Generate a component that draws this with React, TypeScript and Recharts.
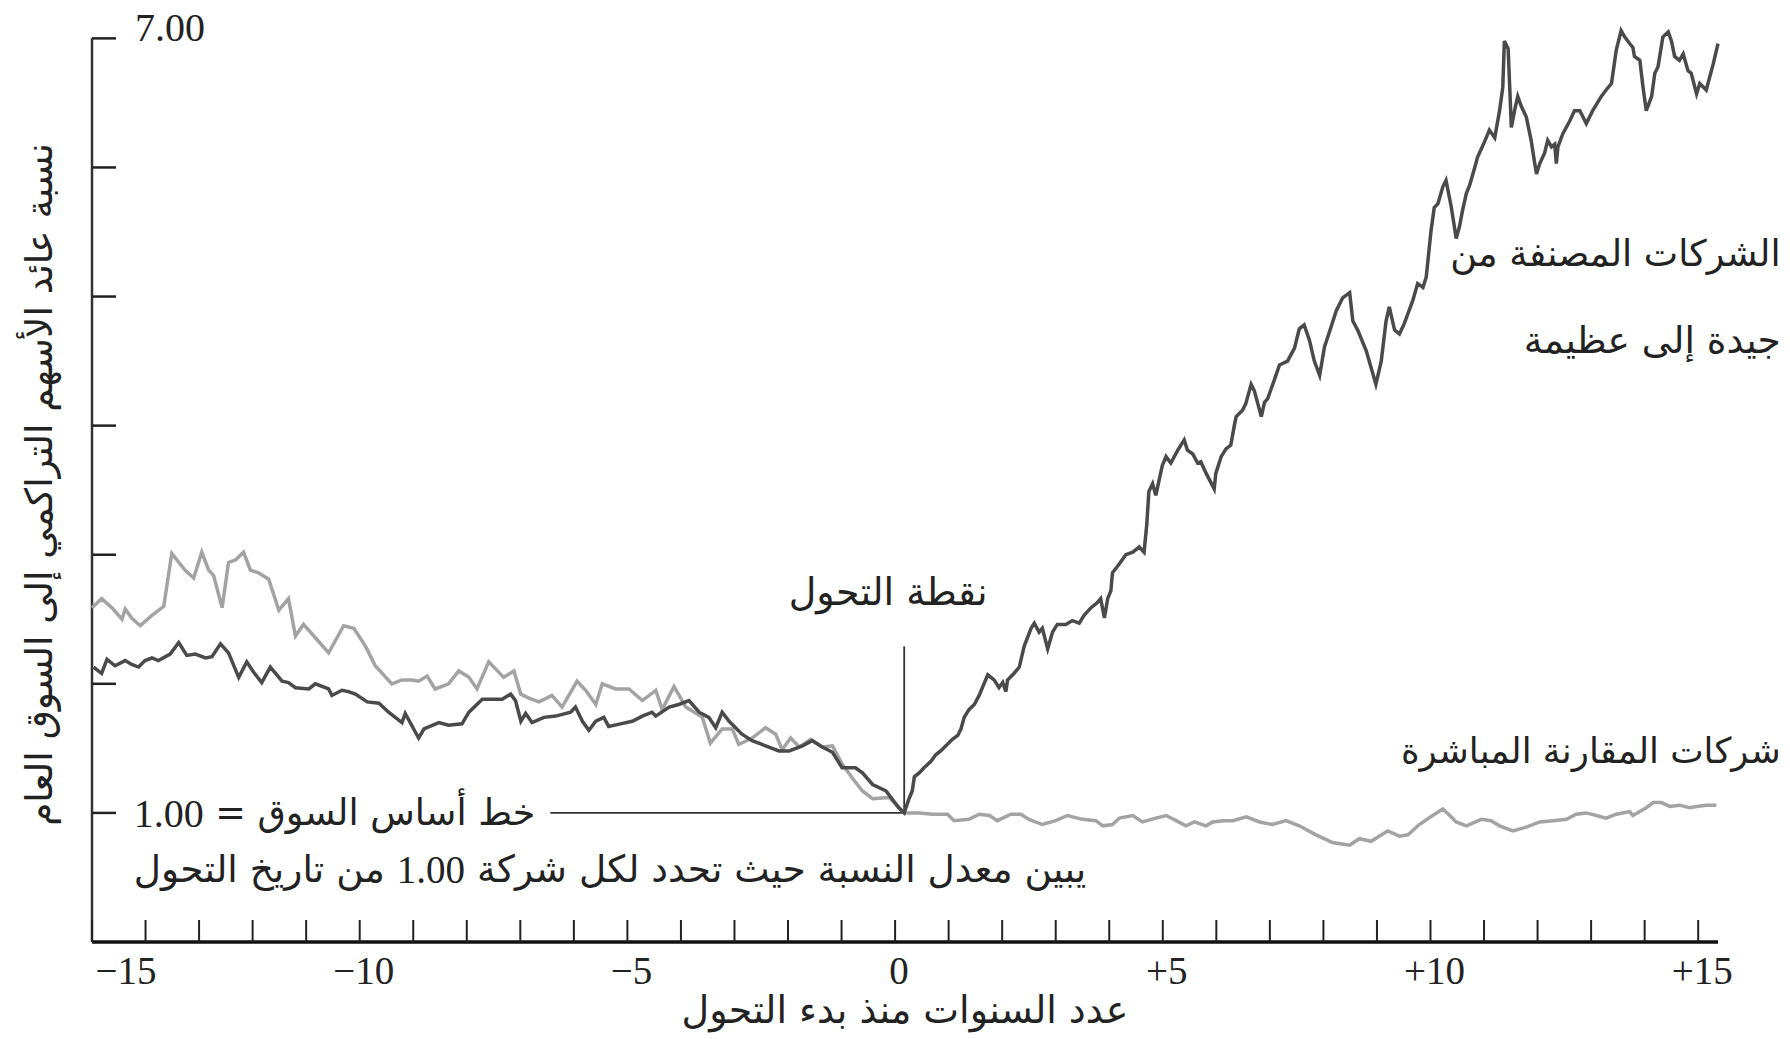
import React from 'react';
import { LineChart, Line, XAxis, YAxis, ReferenceLine, ReferenceDot, Label } from 'recharts';

// years relative to the transition point (0)
const greatYears = [
  -14.97, -14.82, -14.72, -14.57, -14.38, -14.26, -14.13, -14.01, -13.88, -13.76, -13.54, -13.38, -13.23, -13.07,
  -12.88, -12.76, -12.6, -12.45, -12.26, -12.11, -11.98, -11.83, -11.67, -11.45, -11.33, -11.2, -10.95, -10.83,
  -10.58, -10.52, -10.33, -10.21, -10.08, -9.86, -9.64, -9.46, -9.21, -9.15, -8.9, -8.8, -8.52, -8.34, -8.09,
  -7.96, -7.71, -7.59, -7.34, -7.18, -7.09, -6.99, -6.9, -6.78, -6.56, -6.34, -6.06, -5.97, -5.84, -5.72, -5.59,
  -5.44, -5.35, -5.13, -4.91, -4.72, -4.54, -4.47, -4.22, -4.04, -3.85, -3.66, -3.48, -3.35, -3.23, -3.1, -2.98,
  -2.86, -2.67, -2.42, -2.17, -1.98, -1.73, -1.55, -1.36, -1.17, -0.99, -0.74, -0.61, -0.42, -0.17, 0.07, 0.17,
  0.26, 0.32, 0.36, 0.45, 0.54, 0.67, 0.76, 0.85, 0.95, 1.07, 1.17, 1.23, 1.29, 1.38, 1.48, 1.57, 1.66, 1.73,
  1.85, 1.94, 2.01, 2.07, 2.1, 2.22, 2.32, 2.41, 2.54, 2.6, 2.69, 2.75, 2.85, 2.94, 3.03, 3.19, 3.31, 3.44,
  3.53, 3.66, 3.78, 3.84, 3.91, 3.97, 4.03, 4.06, 4.19, 4.31, 4.44, 4.56, 4.65, 4.7, 4.74, 4.81, 4.87, 4.99,
  5.06, 5.15, 5.28, 5.4, 5.46, 5.56, 5.65, 5.71, 5.81, 5.96, 5.99, 6.09, 6.18, 6.27, 6.34, 6.37, 6.49, 6.55,
  6.65, 6.71, 6.84, 6.9, 6.96, 7.08, 7.18, 7.33, 7.46, 7.55, 7.64, 7.74, 7.83, 7.93, 8.02, 8.14, 8.24, 8.36,
  8.49, 8.55, 8.64, 8.8, 8.98, 9.08, 9.17, 9.23, 9.33, 9.42, 9.51, 9.67, 9.76, 9.86, 9.92, 10.01, 10.07, 10.14,
  10.23, 10.29, 10.39, 10.48, 10.54, 10.6, 10.67, 10.73, 10.82, 10.88, 11.01, 11.1, 11.2, 11.29, 11.35, 11.38,
  11.45, 11.48, 11.51, 11.57, 11.63, 11.7, 11.79, 11.88, 11.94, 11.98, 12.04, 12.13, 12.19, 12.26, 12.32, 12.35,
  12.38, 12.47, 12.6, 12.69, 12.79, 12.91, 13.03, 13.19, 13.28, 13.38, 13.47, 13.56, 13.63, 13.72, 13.78, 13.81,
  13.91, 13.97, 14.03, 14.13, 14.19, 14.25, 14.34, 14.44, 14.5, 14.56, 14.65, 14.72, 14.81, 14.87, 14.97, 15.03,
  15.15, 15.28, 15.37,
];

const greatRatio = [
  2.13, 2.08, 2.19, 2.14, 2.18, 2.15, 2.13, 2.18, 2.2, 2.18, 2.23, 2.32, 2.22, 2.23,
  2.2, 2.21, 2.31, 2.24, 2.05, 2.17, 2.09, 2.01, 2.13, 2.02, 2.01, 1.97, 1.96, 2.0,
  1.96, 1.91, 1.95, 1.94, 1.92, 1.86, 1.85, 1.78, 1.7, 1.77, 1.58, 1.65, 1.7, 1.68, 1.69,
  1.78, 1.88, 1.88, 1.88, 1.92, 1.87, 1.71, 1.77, 1.7, 1.74, 1.75, 1.78, 1.82, 1.71, 1.64, 1.71,
  1.74, 1.67, 1.69, 1.71, 1.75, 1.78, 1.75, 1.82, 1.84, 1.87, 1.78, 1.74, 1.66, 1.78, 1.71, 1.66,
  1.61, 1.56, 1.52, 1.48, 1.48, 1.52, 1.56, 1.51, 1.47, 1.35, 1.35, 1.31, 1.22, 1.17, 1.04, 1.0,
  1.11, 1.17, 1.28, 1.31, 1.35, 1.4, 1.45, 1.48, 1.52, 1.57, 1.6, 1.65, 1.74, 1.8, 1.84, 1.91, 2.0, 2.07,
  2.03, 1.97, 2.01, 1.94, 2.03, 2.08, 2.13, 2.29, 2.43, 2.47, 2.4, 2.43, 2.27, 2.4, 2.46, 2.46, 2.49, 2.47,
  2.53, 2.59, 2.63, 2.66, 2.51, 2.66, 2.72, 2.86, 2.93, 3.0, 3.02, 3.06, 3.02, 3.23, 3.49, 3.55, 3.46, 3.69,
  3.76, 3.71, 3.81, 3.89, 3.81, 3.78, 3.71, 3.72, 3.63, 3.51, 3.63, 3.76, 3.82, 3.85, 4.01, 4.07, 4.12, 4.17,
  4.32, 4.27, 4.07, 4.18, 4.21, 4.35, 4.47, 4.5, 4.6, 4.75, 4.78, 4.66, 4.5, 4.39, 4.61, 4.76, 4.89, 4.99,
  5.03, 4.81, 4.74, 4.58, 4.32, 4.5, 4.81, 4.92, 4.74, 4.71, 4.79, 4.97, 5.1, 5.07, 5.15, 5.51, 5.69, 5.72,
  5.85, 5.9, 5.69, 5.45, 5.54, 5.67, 5.8, 5.86, 5.99, 6.08, 6.2, 6.29, 6.23, 6.44, 6.62, 6.98,
  6.92, 6.62, 6.31, 6.44, 6.55, 6.47, 6.39, 6.21, 6.05, 5.95, 6.03, 6.11, 6.21, 6.16, 6.18, 6.03,
  6.16, 6.26, 6.36, 6.44, 6.44, 6.34, 6.44, 6.55, 6.6, 6.65, 6.91, 7.06, 7.01, 6.96, 6.93, 6.86,
  6.83, 6.62, 6.44, 6.55, 6.73, 6.78, 7.01, 7.05, 6.98, 6.86, 6.83, 6.88, 6.75, 6.73, 6.57, 6.65,
  6.6, 6.8, 6.96,
];

const comparisonYears = [
  -15, -14.82, -14.63, -14.44, -14.38, -14.26, -14.1, -13.88, -13.66, -13.51, -13.26, -13.1, -12.95, -12.82,
  -12.73, -12.57, -12.45, -12.32, -12.17, -12.04, -11.89, -11.7, -11.51, -11.33, -11.2, -11.05, -10.77, -10.58,
  -10.3, -10.11, -9.89, -9.71, -9.4, -9.21, -9.02, -8.9, -8.74, -8.59, -8.34, -8.15, -7.96, -7.81, -7.59, -7.31,
  -7.12, -6.99, -6.84, -6.65, -6.41, -6.22, -5.94, -5.78, -5.59, -5.47, -5.22, -4.97, -4.72, -4.47, -4.35, -4.13,
  -3.91, -3.6, -3.45, -3.23, -3.04, -2.92, -2.67, -2.42, -2.23, -2.11, -1.95, -1.79, -1.58, -1.36, -1.17, -0.99,
  -0.8, -0.61, -0.42, -0.11, 0.17, 0.45, 0.7, 0.98, 1.1, 1.38, 1.57, 1.76, 1.91, 2.16, 2.35, 2.5, 2.75, 3.0,
  3.22, 3.5, 3.75, 3.88, 4.06, 4.19, 4.44, 4.62, 4.87, 5.06, 5.25, 5.43, 5.59, 5.81, 5.93, 6.12, 6.31, 6.56,
  6.81, 7.05, 7.3, 7.55, 7.86, 8.17, 8.49, 8.67, 8.89, 9.2, 9.42, 9.58, 9.79, 10.04, 10.23, 10.36, 10.48, 10.67,
  10.95, 11.13, 11.29, 11.54, 11.79, 12.04, 12.29, 12.54, 12.72, 12.91, 13.1, 13.28, 13.47, 13.72, 13.78, 14.03,
  14.16, 14.31, 14.47, 14.65, 14.84, 14.97, 15.15, 15.34,
];

const comparisonRatio = [
  2.59, 2.66, 2.59, 2.5, 2.58, 2.51, 2.45, 2.53, 2.6, 3.01, 2.88, 2.82, 3.02, 2.88,
  2.84, 2.59, 2.94, 2.96, 3.02, 2.88, 2.86, 2.81, 2.57, 2.66, 2.37, 2.46, 2.33, 2.24,
  2.45, 2.43, 2.29, 2.14, 2.0, 2.03, 2.03, 2.02, 2.06, 1.96, 2.0, 2.1, 2.05, 1.96, 2.17, 2.05,
  2.1, 1.92, 1.89, 1.86, 1.91, 1.82, 2.02, 1.95, 1.84, 2.0, 1.96, 1.96, 1.87, 1.95, 1.8, 1.98,
  1.82, 1.74, 1.54, 1.65, 1.65, 1.53, 1.58, 1.66, 1.61, 1.49, 1.58, 1.51, 1.57, 1.51, 1.52, 1.38,
  1.27, 1.17, 1.11, 1.12, 1.0, 1.0, 0.99, 0.99, 0.94, 0.95, 0.99, 0.98, 0.94, 0.99, 0.99, 0.95, 0.91, 0.94,
  0.98, 0.95, 0.94, 0.9, 0.91, 0.96, 0.98, 0.93, 0.96, 0.98, 0.94, 0.9, 0.93, 0.9, 0.93, 0.94, 0.94, 0.97,
  0.93, 0.91, 0.94, 0.9, 0.83, 0.77, 0.75, 0.8, 0.78, 0.86, 0.82, 0.83, 0.91, 0.98, 1.03, 0.98, 0.93, 0.9,
  0.95, 0.94, 0.9, 0.86, 0.89, 0.93, 0.94, 0.95, 0.99, 1.0, 0.98, 0.96, 0.99, 1.01, 0.98, 1.04,
  1.08, 1.08, 1.05, 1.06, 1.04, 1.05, 1.06, 1.06,
];

const xTicks = [-15, -14, -13, -12, -11, -10, -9, -8, -7, -6, -5, -4, -3, -2, -1, 0, 1, 2, 3, 4, 5, 6, 7, 8, 9, 10, 11, 12, 13, 14, 15];
const labelledYears = [-15, -10, -5, 0, 5, 10, 15];
const xTickLabels = ['−15', '−10', '−5', '0', '+5', '+10', '+15'];
const yTicks = [1, 2, 3, 4, 5, 6, 7];

const TURN_YEAR = 0.17;
const BASELINE = 1;

const greatData = greatYears.map((year, i) => ({ year, ratio: greatRatio[i] }));
const comparisonData = comparisonYears.map((year, i) => ({ year, ratio: comparisonRatio[i] }));

const ARABIC = "'DejaVu Sans', sans-serif";
const SERIF = "'Liberation Serif', 'DejaVu Serif', serif";
const INK = '#222';

const XTick = (props: any) => {
  const { x, y, payload } = props;
  const idx = labelledYears.indexOf(payload.value);
  return (
    <g>
      <line x1={x} x2={x} y1={y} y2={y - 22} stroke={INK} strokeWidth={2} />
      {idx >= 0 && (
        <text
          x={x + (payload.value === -15 ? 34 : 4)}
          y={y + 42}
          textAnchor="middle"
          fontFamily={SERIF}
          fontSize={39}
          fill={INK}
        >
          {xTickLabels[idx]}
        </text>
      )}
    </g>
  );
};

// ticks point inward from the axis, only the top one carries a label
const YTick = (props: any) => {
  const { x, y, payload } = props;
  return (
    <g>
      <line x1={x} x2={x + 24} y1={y} y2={y} stroke={INK} strokeWidth={2.5} />
      {payload.value === 7 && (
        <text x={x + 43} y={y + 3} fontFamily={SERIF} fontSize={40} fill={INK}>
          7.00
        </text>
      )}
    </g>
  );
};

const note = (content: React.ReactNode, anchor: 'start' | 'middle' | 'end', size: number) => (props: any) => {
  const { x, y } = props.viewBox;
  return (
    <text x={x} y={y} textAnchor={anchor} dominantBaseline="central" fontFamily={ARABIC} fontSize={size} fill={INK}>
      {content}
    </text>
  );
};

const App: React.FC = () => {
  return (
    <div style={{ width: 1790, height: 1039, background: '#fff' }}>
      <style>{'body{margin:0}'}</style>
      <LineChart width={1790} height={1039} margin={{ top: 19, right: 72, bottom: 0, left: 2 }}>
        <XAxis
          type="number"
          dataKey="year"
          domain={[-15, 15.37]}
          ticks={xTicks}
          interval={0}
          tickSize={0}
          tickMargin={0}
          tick={<XTick />}
          axisLine={{ stroke: '#111', strokeWidth: 3.5 }}
          height={97}
        >
          <Label
            content={(p: any) => {
              const vb = p.viewBox;
              return (
                <text
                  x={vb.x + vb.width / 2}
                  y={vb.y + 68}
                  textAnchor="middle"
                  dominantBaseline="central"
                  fontFamily={ARABIC}
                  fontSize={38}
                  fill={INK}
                >
                  عدد السنوات منذ بدء التحول
                </text>
              );
            }}
          />
        </XAxis>
        <YAxis
          type="number"
          domain={[0, 7.15]}
          ticks={yTicks}
          interval={0}
          width={90}
          tickSize={0}
          tickMargin={0}
          tick={<YTick />}
          axisLine={false}
        >
          <Label
            content={(p: any) => {
              const vb = p.viewBox;
              const cx = vb.x + vb.width - 53;
              const cy = vb.y + vb.height / 2 + 4;
              return (
                <text
                  x={cx}
                  y={cy}
                  transform={`rotate(-90, ${cx}, ${cy})`}
                  textAnchor="middle"
                  dominantBaseline="central"
                  fontFamily={ARABIC}
                  fontSize={37.5}
                  fill={INK}
                >
                  نسبة عائد الأسهم التراكمي إلى السوق العام
                </text>
              );
            }}
          />
        </YAxis>

        {/* y axis line only spans 0 to 7.00 */}
        <ReferenceLine segment={[{ x: -15, y: 0 }, { x: -15, y: 7 }]} stroke="#333" strokeWidth={2.5} />

        <ReferenceLine
          segment={[{ x: -6.44, y: BASELINE }, { x: TURN_YEAR, y: BASELINE }]}
          stroke="#333"
          strokeWidth={1.8}
        />
        <ReferenceLine
          segment={[{ x: TURN_YEAR, y: BASELINE }, { x: TURN_YEAR, y: 2.29 }]}
          stroke="#333"
          strokeWidth={1.8}
        />

        <Line
          data={comparisonData}
          dataKey="ratio"
          type="linear"
          stroke="#a3a3a3"
          strokeWidth={3.5}
          dot={false}
          isAnimationActive={false}
        />
        <Line
          data={greatData}
          dataKey="ratio"
          type="linear"
          stroke="#4a4a4a"
          strokeWidth={3.5}
          dot={false}
          isAnimationActive={false}
        />

        <ReferenceDot x={-0.13} y={2.71} r={0} stroke="none" fill="none" ifOverflow="visible" label={note('نقطة التحول', 'middle', 38)} />
        <ReferenceDot x={16.54} y={5.33} r={0} stroke="none" fill="none" ifOverflow="visible" label={note('الشركات المصنفة من', 'end', 36.5)} />
        <ReferenceDot x={16.54} y={4.66} r={0} stroke="none" fill="none" ifOverflow="visible" label={note('جيدة إلى عظيمة', 'end', 37.5)} />
        <ReferenceDot x={16.54} y={1.48} r={0} stroke="none" fill="none" ifOverflow="visible" label={note('شركات المقارنة المباشرة', 'end', 35.5)} />
        <ReferenceDot
          x={-14.22}
          y={BASELINE}
          r={0}
          stroke="none"
          fill="none"
          ifOverflow="visible"
          label={note(
            <>
              {'خط أساس السوق = '}
              <tspan fontFamily={SERIF} fontSize={40}>1.00</tspan>
            </>,
            'start',
            36.5
          )}
        />
        <ReferenceDot
          x={-14.22}
          y={0.566}
          r={0}
          stroke="none"
          fill="none"
          ifOverflow="visible"
          label={note(
            <>
              {'يبين معدل النسبة حيث تحدد لكل شركة '}
              <tspan fontFamily={SERIF} fontSize={39}>1.00</tspan>
              {' من تاريخ التحول'}
            </>,
            'start',
            37.5
          )}
        />
      </LineChart>
    </div>
  );
};

export default App;
